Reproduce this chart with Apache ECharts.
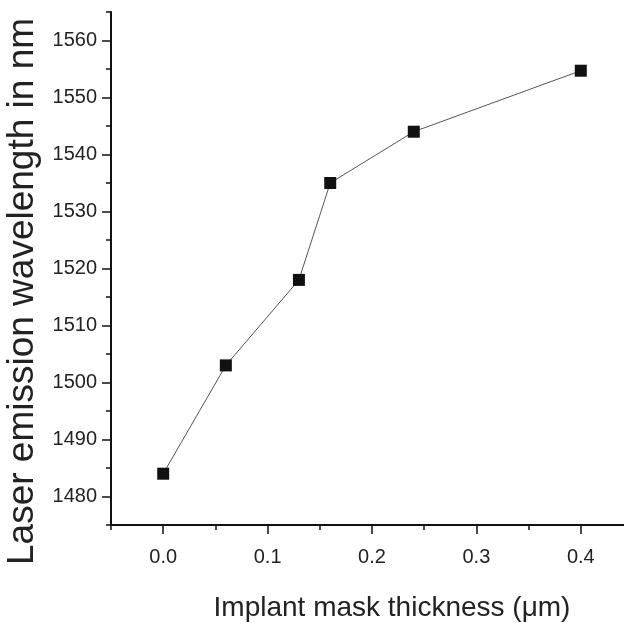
<!DOCTYPE html>
<html>
<head>
<meta charset="utf-8">
<script src="https://cdn.jsdelivr.net/npm/echarts@6/dist/echarts.min.js"></script>
<style>html,body{margin:0;padding:0;background:#fff;}#c{width:624px;height:623px;}</style>
</head>
<body>
<div id="c"></div>
<script>
// Data
const thickness = [0.0, 0.06, 0.13, 0.16, 0.24, 0.40];
const wavelength = [1484, 1503, 1518, 1535, 1544, 1554.7];
// Ticks
const xMajorTicks = [0.0, 0.1, 0.2, 0.3, 0.4];
const xMinorTicks = [-0.05, 0.05, 0.15, 0.25, 0.35, 0.45];
const yMajorTicks = [1480, 1490, 1500, 1510, 1520, 1530, 1540, 1550, 1560];
const yMinorTicks = [1475, 1485, 1495, 1505, 1515, 1525, 1535, 1545, 1555, 1565];
const xTitle = 'Implant mask thickness (\u03bcm)';
const yTitle = 'Laser emission wavelength in nm';

const FONT = '"Liberation Sans", Arial, sans-serif';
const chart = echarts.init(document.getElementById('c'), null, {renderer: 'canvas'});
const xMin = -0.05, xMax = 0.45, yMin = 1475, yMax = 1565;

chart.setOption({
  animation: false,
  backgroundColor: '#fff',
  grid: {left: 111, top: 12, right: -9, bottom: 98, containLabel: false, outerBoundsMode: 'none'},
  xAxis: [
    {
      type: 'value', min: xMin, max: xMax, position: 'bottom',
      axisLine: {show: true, onZero: false, lineStyle: {color: '#111', width: 2}},
      axisTick: {show: true, inside: false, length: 9, customValues: xMajorTicks, lineStyle: {color: '#111', width: 1.5}},
      axisLabel: {show: true, customValues: xMajorTicks, margin: 22, fontFamily: FONT, fontSize: 20, color: '#222',
        formatter: v => v.toFixed(1)},
      splitLine: {show: false},
      name: xTitle, nameLocation: 'middle', nameGap: 69,
      nameTextStyle: {fontFamily: FONT, fontSize: 28, color: '#222', padding: [0, 0, 0, 40]}
    },
    {
      type: 'value', min: xMin, max: xMax, position: 'bottom',
      axisLine: {show: false, onZero: false},
      axisTick: {show: true, inside: false, length: 5, customValues: xMinorTicks, lineStyle: {color: '#111', width: 1.5}},
      axisLabel: {show: false},
      splitLine: {show: false}
    }
  ],
  yAxis: [
    {
      type: 'value', min: yMin, max: yMax, position: 'left',
      axisLine: {show: true, onZero: false, lineStyle: {color: '#111', width: 2}},
      axisTick: {show: true, inside: false, length: 9, customValues: yMajorTicks, lineStyle: {color: '#111', width: 1.5}},
      axisLabel: {show: true, customValues: yMajorTicks, margin: 14, fontFamily: FONT, fontSize: 20, color: '#222',
        formatter: v => String(v)},
      splitLine: {show: false},
      name: yTitle, nameLocation: 'middle', nameGap: 60, nameRotate: 90,
      nameTextStyle: {fontFamily: FONT, fontSize: 37, color: '#222', padding: [0, 46, 0, 0]}
    },
    {
      type: 'value', min: yMin, max: yMax, position: 'left',
      axisLine: {show: false, onZero: false},
      axisTick: {show: true, inside: false, length: 5, customValues: yMinorTicks, lineStyle: {color: '#111', width: 1.5}},
      axisLabel: {show: false},
      splitLine: {show: false}
    }
  ],
  series: [{
    type: 'line',
    xAxisIndex: 0, yAxisIndex: 0,
    data: thickness.map((x, i) => [x, wavelength[i]]),
    symbol: 'rect', symbolSize: 12,
    itemStyle: {color: '#111'},
    lineStyle: {color: '#555', width: 1},
    z: 3
  }]
});
</script>
</body>
</html>
